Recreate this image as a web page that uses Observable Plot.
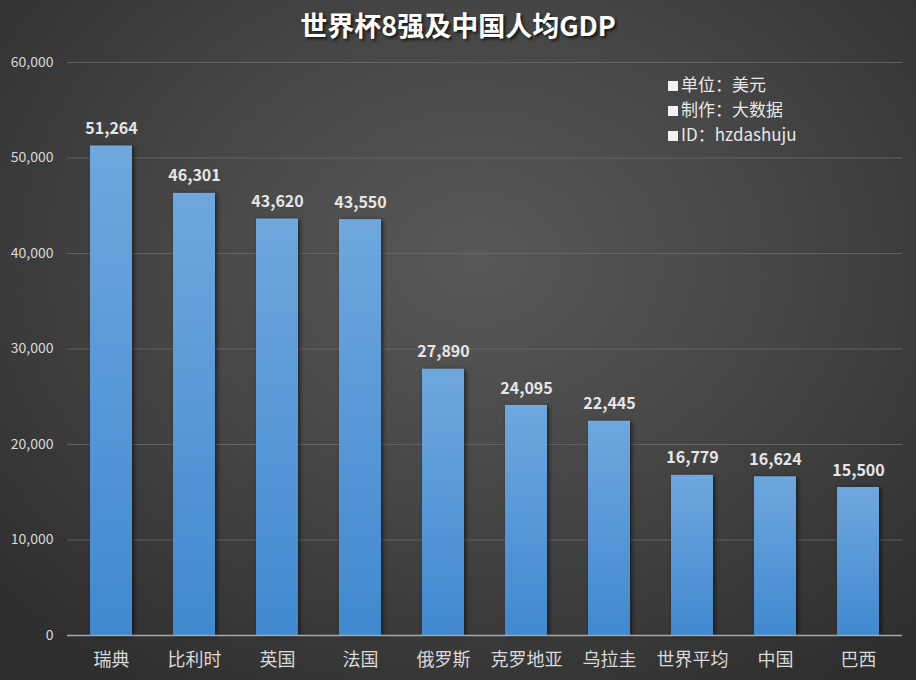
<!DOCTYPE html>
<html>
<head>
<meta charset="utf-8">
<script src="https://cdn.jsdelivr.net/npm/d3@7"></script>
<script src="https://cdn.jsdelivr.net/npm/@observablehq/plot@0.6"></script>
<style>
  html, body { margin: 0; padding: 0; }
  body { width: 916px; height: 680px; overflow: hidden;
    background: radial-gradient(ellipse 70% 75% at 52% 38%, #585858 0%, #474747 45%, #2e2e2e 100%);
    font-family: "Noto Sans CJK SC", "Noto Sans", sans-serif; }
  #wrap { position: relative; width: 916px; height: 680px; }
  #title { height: 50px; line-height: 50px; text-align: center; color: #ffffff;
    font-size: 27px; font-weight: bold; text-shadow: 2px 2px 3px rgba(0,0,0,0.7); }
  #note { position: absolute; left: 668px; top: 71px; color: #e8e8e8; font-size: 17px; line-height: 25px; }
  #note span.sq { display: inline-block; width: 10px; height: 10px; background: #f2f2f2; margin-right: 3px; vertical-align: 0px; }
</style>
</head>
<body>
<div id="wrap">
  <div id="title">世界杯8强及中国人均GDP</div>
  <div id="chart"></div>
  <div id="note">
    <div><span class="sq"></span>单位：美元</div>
    <div><span class="sq"></span>制作：大数据</div>
    <div><span class="sq"></span>ID：hzdashuju</div>
  </div>
</div>
<script>
const countries = ["瑞典", "比利时", "英国", "法国", "俄罗斯", "克罗地亚", "乌拉圭", "世界平均", "中国", "巴西"];
const gdp = [51264, 46301, 43620, 43550, 27890, 24095, 22445, 16779, 16624, 15500];
const yTicks = [0, 10000, 20000, 30000, 40000, 50000, 60000];

const data = countries.map((c, i) => ({country: c, value: gdp[i]}));
const fmt = d3.format(",");

const plot = Plot.plot({
  width: 916,
  height: 630,
  marginTop: 12,
  marginBottom: 45,
  marginLeft: 67,
  marginRight: 14,
  style: {background: "transparent", fontFamily: "'Noto Sans CJK SC', 'Noto Sans', sans-serif"},
  x: {domain: countries, paddingInner: 0.5, paddingOuter: 0.25, label: null},
  y: {domain: [0, 60000], label: null},
  marks: [
    Plot.ruleY(yTicks.filter(d => d > 0), {stroke: "#6a6a6a", strokeWidth: 1, strokeOpacity: 0.8}),
    Plot.barY(data, {x: "country", y: "value", fill: "url(#barGrad)"}),
    Plot.ruleY([0], {stroke: "#a8a8a8", strokeWidth: 1.5}),
    Plot.text(data, {x: "country", y: "value", text: d => fmt(d.value), dy: -17,
      fill: "#e6e6e6", fontSize: 16, fontWeight: "bold"}),
    Plot.axisY({ticks: yTicks, tickFormat: fmt, tickSize: 0, tickPadding: 14,
      fill: "#d9d9d9", fontSize: 14, label: null}),
    Plot.axisX({tickSize: 0, tickPadding: 18, fill: "#d9d9d9", fontSize: 18, label: null})
  ]
});

const svg = d3.select(plot);
const defs = svg.insert("defs", ":first-child");
const g = defs.append("linearGradient").attr("id", "barGrad")
  .attr("x1", 0).attr("y1", 0).attr("x2", 0).attr("y2", 1);
g.append("stop").attr("offset", "0%").attr("stop-color", "#6fa7de");
g.append("stop").attr("offset", "100%").attr("stop-color", "#4089d0");
svg.selectAll("g[aria-label='bar']").style("filter", "drop-shadow(2px 1px 2px rgba(0,0,0,0.55))");

document.getElementById("chart").appendChild(plot);
</script>
</body>
</html>
